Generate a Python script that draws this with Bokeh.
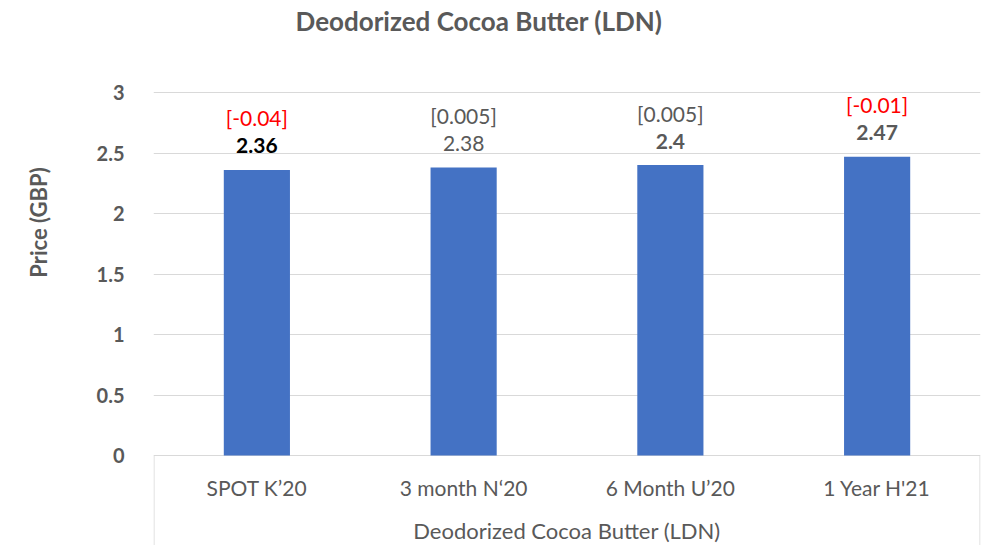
import math
from bokeh.plotting import figure
from bokeh.layouts import row
from bokeh.models import ColumnDataSource, FactorRange, Range1d, FixedTicker
from bokeh.transform import dodge
from bokeh.core.properties import value
from bokeh.embed import file_html
from bokeh.resources import INLINE

# ---- data ----
categories = ["SPOT K\u201920", "3 month N\u201820", "6 Month U\u201920", "1 Year H'21"]
prices = [2.36, 2.38, 2.4, 2.47]
price_labels = ["2.36", "2.38", "2.4", "2.47"]
changes = ["[-0.04]", "[0.005]", "[0.005]", "[-0.01]"]
y_ticks = [0, 0.5, 1, 1.5, 2, 2.5, 3]
y_tick_labels = ["0", "0.5", "1", "1.5", "2", "2.5", "3"]
title_text = "Deodorized Cocoa Butter (LDN)"
x_title_text = "Deodorized Cocoa Butter (LDN)"
y_title_text = "Price (GBP)"

FONT = "Lato"
GRAY = "#595959"
GRID = "#d9d9d9"
BAR = "#4472C4"

change_colors = ["#FF0000" if c.startswith("[-") else GRAY for c in changes]
price_colors = ["#000000", GRAY, GRAY, GRAY]
price_styles = ["bold", "normal", "bold", "bold"]

src = ColumnDataSource(dict(cat=categories, price=prices, plabel=price_labels,
                            change=changes, ccolor=change_colors,
                            pcolor=price_colors, pstyle=price_styles,
                            zero=[0] * len(categories)))

H = 545
SIDE_W = 60            # strip holding the rotated y-axis title
W = 981 - SIDE_W
LEFT, RIGHT = 153 - SIDE_W, 1
PX_PER_UNIT = 121.0
Y_TOP_PX, Y_ZERO_PX = 92, 455
y_start = -(H - Y_ZERO_PX) / PX_PER_UNIT
y_end = 3 + Y_TOP_PX / PX_PER_UNIT

# ---- y-axis title strip ----
side = figure(width=SIDE_W, height=H, x_range=Range1d(0, SIDE_W), y_range=Range1d(H, 0),
              output_backend="svg", toolbar_location=None, x_axis_location=None,
              y_axis_location=None, min_border=0)
side.outline_line_color = None
side.grid.grid_line_color = None
side.text(x=[38], y=[222], text=[y_title_text], angle=math.pi / 2,
          text_align="center", text_baseline="middle", text_font=value(FONT),
          text_font_size="22px", text_font_style="bold", text_color=GRAY)

# ---- main chart ----
p = figure(width=W, height=H, x_range=FactorRange(*categories, range_padding=0),
           y_range=Range1d(y_start, y_end), output_backend="svg", toolbar_location=None,
           x_axis_location=None, min_border_left=LEFT, min_border_right=RIGHT,
           min_border_top=0, min_border_bottom=0)
p.outline_line_color = None
p.background_fill_color = "white"
p.border_fill_color = "white"

p.yaxis.ticker = FixedTicker(ticks=y_ticks)
p.yaxis.major_label_overrides = {t_: l for t_, l in zip(y_ticks, y_tick_labels)}
p.yaxis.axis_line_color = None
p.yaxis.major_tick_line_color = None
p.yaxis.minor_tick_line_color = None
p.yaxis.major_label_standoff = 23
p.yaxis.major_label_text_font = FONT
p.yaxis.major_label_text_font_size = "20px"
p.yaxis.major_label_text_font_style = "bold"
p.yaxis.major_label_text_color = GRAY

p.ygrid.ticker = FixedTicker(ticks=y_ticks)
p.ygrid.grid_line_color = GRID
p.ygrid.grid_line_width = 1
p.xgrid.grid_line_color = None

# category-axis box sides
edge_src = ColumnDataSource(dict(l=[categories[0]], r=[categories[-1]], y0=[0], y1=[-1]))
p.segment(x0=dodge("l", -0.4975, range=p.x_range), x1=dodge("l", -0.4975, range=p.x_range),
          y0="y0", y1="y1", source=edge_src, line_color=GRID, line_width=1)
p.segment(x0=dodge("r", 0.4975, range=p.x_range), x1=dodge("r", 0.4975, range=p.x_range),
          y0="y0", y1="y1", source=edge_src, line_color=GRID, line_width=1)

# bars
p.vbar(x="cat", top="price", width=0.32, source=src, fill_color=BAR, line_color=None)

# value labels
p.text(x="cat", y="price", text="plabel", source=src, y_offset=-24,
       text_align="center", text_baseline="middle", text_font=value(FONT),
       text_font_size="21px", text_color="pcolor", text_font_style="pstyle")
p.text(x="cat", y="price", text="change", source=src, y_offset=-52,
       text_align="center", text_baseline="middle", text_font=value(FONT),
       text_font_size="21px", text_color="ccolor")

# category tick labels
p.text(x="cat", y="zero", text="cat", source=src, y_offset=32,
       text_align="center", text_baseline="middle", text_font=value(FONT),
       text_font_size="21px", text_color=GRAY)

# x title and chart title (centre of frame = right edge of 2nd category)
mid_src = ColumnDataSource(dict(cat=[categories[1]], zero=[0], top=[3], t=[x_title_text],
                                title=[title_text]))
p.text(x=dodge("cat", 0.5, range=p.x_range), y="zero", text="t", source=mid_src, y_offset=75,
       text_align="center", text_baseline="middle", text_font=value(FONT),
       text_font_size="22px", text_color=GRAY)
p.text(x=dodge("cat", 0.5, range=p.x_range), y="top", text="title", source=mid_src,
       x_offset=-88, y_offset=-(Y_TOP_PX - 20),
       text_align="center", text_baseline="middle", text_font=value(FONT),
       text_font_size="26px", text_font_style="bold", text_color=GRAY)

layout = row(side, p, spacing=0)
open("out.html", "w").write(file_html(layout, INLINE))
